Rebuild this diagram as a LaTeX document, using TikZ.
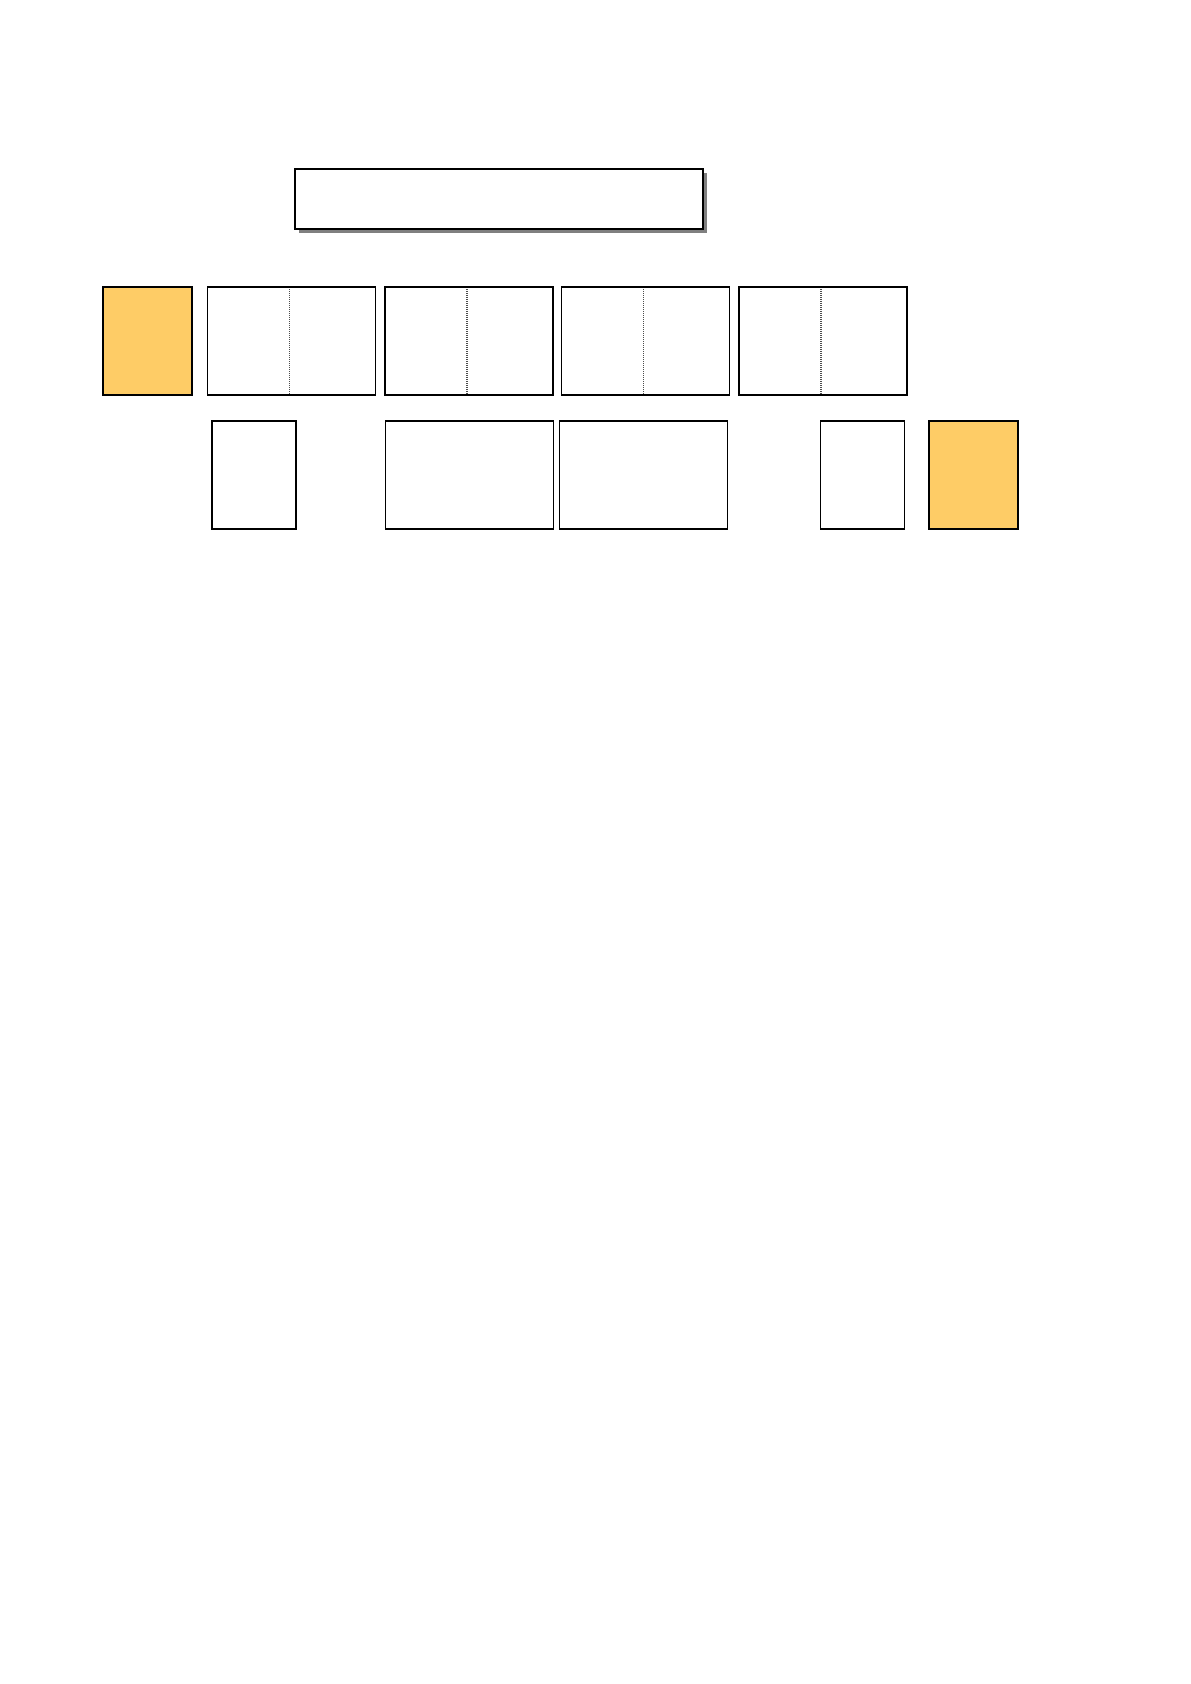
\documentclass[tikz,border=0pt]{standalone}
\usetikzlibrary{shadows}
\definecolor{boxorange}{HTML}{FECC66}
\tikzset{
  x=0.5pt, y=-0.5pt,
  plainbox/.style={draw=black, fill=white, line width=0.85pt, inner sep=0pt, outer sep=0pt, anchor=north west},
  orangebox/.style={plainbox, fill=boxorange, minimum width=44.5pt, minimum height=54pt},
  pairbox/.style={plainbox, minimum width=84pt, minimum height=54pt},
  narrowbox/.style={plainbox, minimum width=42pt, minimum height=54pt},
  titlebox/.style={plainbox, line width=1pt, minimum width=204pt, minimum height=30pt,
    drop shadow={shadow xshift=2pt, shadow yshift=-2pt, fill=black!50, opacity=1}},
  divider/.style={draw=black!70, line width=0.6pt, dash pattern=on 0.5pt off 0.5pt}
}
\begin{document}
\begin{tikzpicture}
\useasboundingbox (0,0) rectangle (1190,1684);
% title bar
\node[titlebox] (title) at (295,169) {};
% top row
\node[orangebox] (oleft) at (103,287) {};
\node[pairbox] (t1) at (207.5,287) {};
\node[pairbox] (t2) at (385,287) {};
\node[pairbox] (t3) at (561.5,287) {};
\node[pairbox] (t4) at (739,287) {};
\foreach \n in {t1,t2,t3,t4}{
  \draw[divider] ([xshift=41pt,yshift=-1pt]\n.north west) -- ([xshift=41pt]\n.south west);
}
% bottom row
\node[narrowbox] (b1) at (212,421) {};
\node[pairbox] (b2) at (385.5,421) {};
\node[pairbox] (b3) at (559.5,421) {};
\node[narrowbox] (b4) at (820.5,421) {};
\node[orangebox] (oright) at (929,421) {};
\end{tikzpicture}
\end{document}
